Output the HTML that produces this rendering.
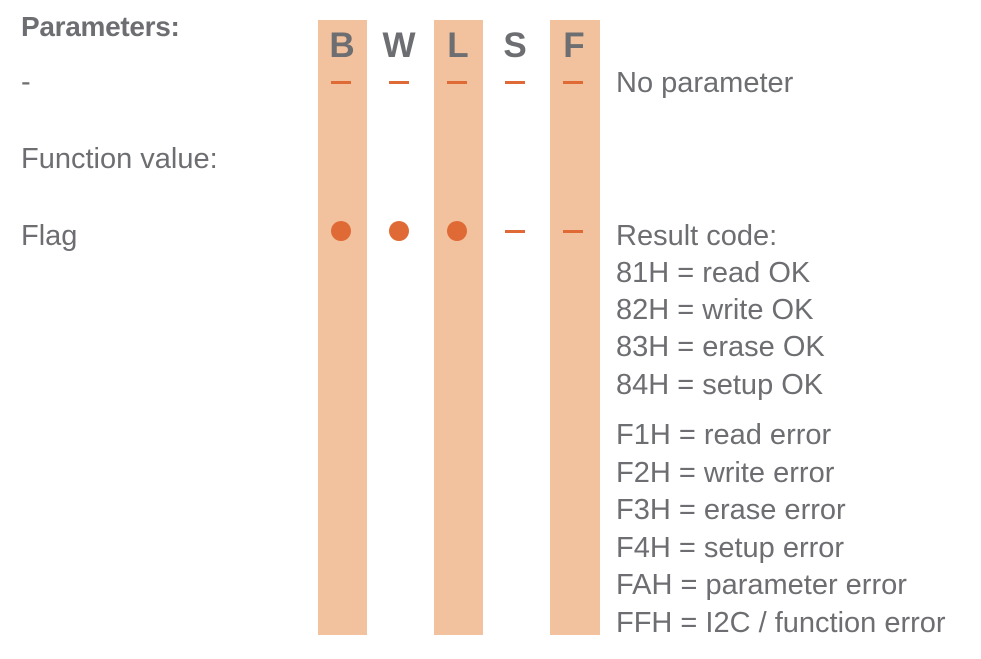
<!DOCTYPE html>
<html><head><meta charset="utf-8"><style>
body{margin:0;width:981px;height:659px;background:#fff;position:relative;overflow:hidden;font-family:"Liberation Sans",sans-serif;color:#6d6e71}
.t{position:absolute;font-size:29px;line-height:28px;white-space:nowrap;letter-spacing:0px}
.band{position:absolute;top:20px;height:615px;width:49px;background:#f2c19e}
.h{position:absolute;top:28px;width:58px;text-align:center;font-weight:bold;font-size:35px;line-height:35px;color:#6d6e71}
.dash{position:absolute;width:20px;height:3px;background:#e06a35}
.dot{position:absolute;width:20px;height:20px;border-radius:50%;background:#e06a35}
</style></head><body>
<div class="band" style="left:318px"></div>
<div class="band" style="left:434px"></div>
<div class="band" style="left:550px;width:50px"></div>
<div class="h" style="left:313px">B</div>
<div class="h" style="left:370px">W</div>
<div class="h" style="left:429px">L</div>
<div class="h" style="left:486px">S</div>
<div class="h" style="left:545px">F</div>
<div class="dash" style="left:331px;top:81px"></div>
<div class="dash" style="left:389px;top:81px"></div>
<div class="dash" style="left:447px;top:81px"></div>
<div class="dash" style="left:505px;top:81px"></div>
<div class="dash" style="left:563px;top:81px"></div>
<div class="dot" style="left:331px;top:221px"></div>
<div class="dot" style="left:389px;top:221px"></div>
<div class="dot" style="left:447px;top:221px"></div>
<div class="dash" style="left:505px;top:230px"></div>
<div class="dash" style="left:563px;top:230px"></div>
<div class="t" style="left:21px;top:13px;font-weight:bold;font-size:28px;letter-spacing:-0.3px">Parameters:</div>
<div class="t" style="left:21px;top:68px">-</div>
<div class="t" style="left:21px;top:145px">Function value:</div>
<div class="t" style="left:21px;top:222px">Flag</div>
<div class="t" style="left:616px;top:69px">No parameter</div>
<div class="t" style="left:616px;top:222px">Result code:</div>
<div class="t" style="left:616px;top:259px">81H = read OK</div>
<div class="t" style="left:616px;top:296px">82H = write OK</div>
<div class="t" style="left:616px;top:333px">83H = erase OK</div>
<div class="t" style="left:616px;top:371px">84H = setup OK</div>
<div class="t" style="left:616px;top:421px">F1H = read error</div>
<div class="t" style="left:616px;top:459px">F2H = write error</div>
<div class="t" style="left:616px;top:496px">F3H = erase error</div>
<div class="t" style="left:616px;top:534px">F4H = setup error</div>
<div class="t" style="left:616px;top:571px">FAH = parameter error</div>
<div class="t" style="left:616px;top:609px">FFH = I2C / function error</div>
</body></html>
